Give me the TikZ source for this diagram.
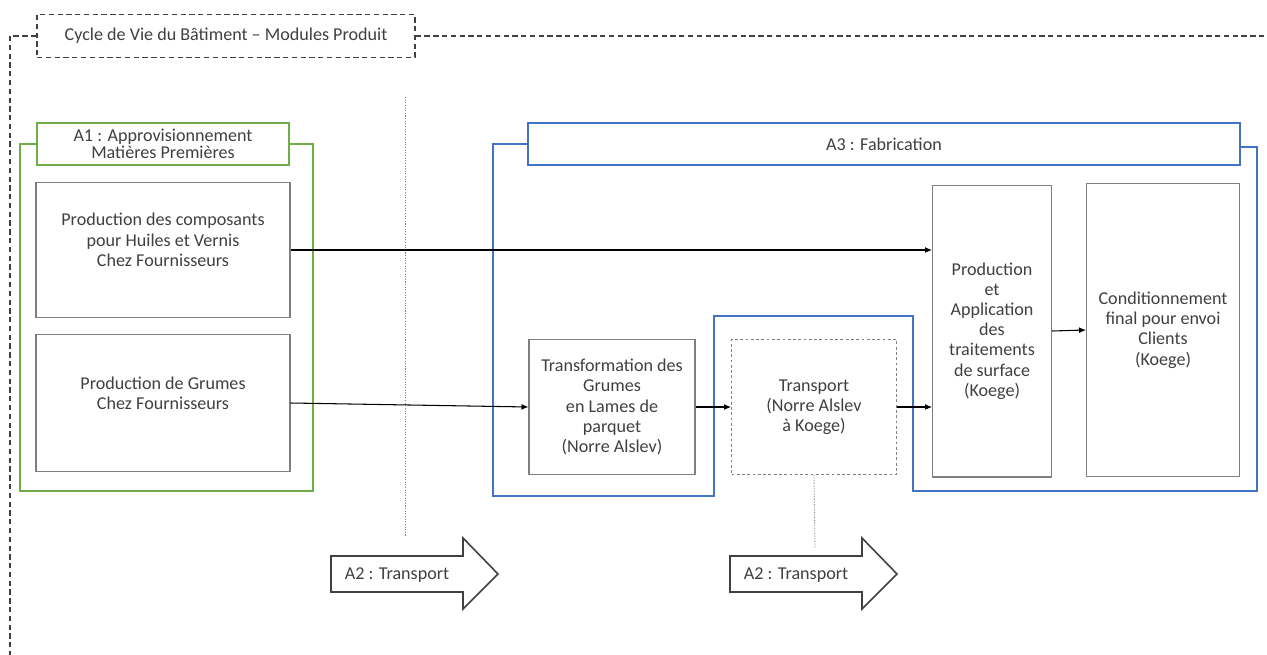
\documentclass[tikz,border=0pt]{standalone}
\usepackage{fontspec}
\setmainfont{Carlito}
\usetikzlibrary{arrows.meta}
\definecolor{txtgray}{HTML}{404040}
\definecolor{linegray}{HTML}{7F7F7F}
\definecolor{afgreen}{HTML}{70AD47}
\definecolor{afblue}{HTML}{4472C4}
\tikzset{
  stepbox/.style={draw=linegray, line width=0.6pt, text=txtgray, align=center,
    font=\fontsize{10.3}{11.5}\selectfont, inner sep=2pt},
  transpbox/.style={stepbox, dash pattern=on 1.6pt off 1.4pt},
  titlebox/.style={draw=txtgray, line width=0.8pt, dash pattern=on 3pt off 2pt,
    text=txtgray, font=\fontsize{10.3}{11.5}\selectfont,
    minimum width=7.56cm, minimum height=0.86cm},
  cycleline/.style={draw=txtgray, line width=0.8pt, dash pattern=on 3pt off 2pt},
  a1frame/.style={draw=afgreen, line width=0.8pt},
  a3frame/.style={draw=afblue, line width=0.8pt},
  a1title/.style={draw=afgreen, line width=0.8pt, fill=white, text=txtgray, align=center,
    font=\fontsize{10.3}{9.6}\selectfont, minimum width=5.04cm, minimum height=0.84cm},
  a3title/.style={draw=afblue, line width=0.8pt, fill=white, text=txtgray,
    font=\fontsize{10.3}{11.5}\selectfont, minimum width=14.24cm, minimum height=0.84cm},
  flow/.style={draw=black, line width=0.6pt, -{Latex[length=1.4mm, width=1.2mm]}},
  a2arrow/.style={draw=txtgray, line width=0.9pt},
  a2text/.style={text=txtgray, font=\fontsize{10.3}{11.5}\selectfont},
  sepline/.style={draw=linegray, line width=0.5pt, dash pattern=on 0.6pt off 0.9pt}
}
\begin{document}
\begin{tikzpicture}[x=0.02cm, y=-0.02cm]
  \useasboundingbox (0,0) rectangle (1267,655);
  % cadre general
  \node[titlebox] (cycle) at (226,36) {Cycle de Vie du Bâtiment – Modules Produit};
  \draw[cycleline] (cycle.west) -| (10,655);
  \draw[cycleline] (cycle.east) -- (1267,36);
  \draw[sepline] (405,97) -- (405,537);

  % A1
  \draw[a1frame] (20,144) rectangle (313,491);
  \node[a1title] (a1) at (163,144) {A1 : Approvisionnement\\Matières Premières};
  \node[stepbox, minimum width=5.08cm, minimum height=2.7cm] (comp) at (163,250)
    {Production des composants\\pour Huiles et Vernis\\Chez Fournisseurs\\\mbox{}};
  \node[stepbox, minimum width=5.08cm, minimum height=2.74cm] (grumes) at (163,403)
    {Production de Grumes\\Chez Fournisseurs\\\mbox{}};

  % A3
  \draw[a3frame] (528,144) -- (493,144) -- (493,496) -- (714,496) -- (714,316)
    -- (913,316) -- (913,491) -- (1257,491) -- (1257,147) -- (1240,147);
  \node[a3title] (a3) at (884,144) {A3 : Fabrication};
  \node[stepbox, minimum width=3.32cm, minimum height=2.7cm] (transf) at (612,407)
    {Transformation des\\Grumes\\en Lames de\\parquet\\(Norre Alslev)};
  \node[transpbox, minimum width=3.3cm, minimum height=2.7cm] (transp) at (814,407)
    {Transport\\(Norre Alslev\\à Koege)};
  \node[stepbox, minimum width=2.38cm, minimum height=5.84cm] (prod) at (992,331)
    {Production\\et\\Application\\des\\traitements\\de surface\\(Koege)};
  \node[stepbox, minimum width=3.06cm, minimum height=5.86cm] (cond) at (1163,330)
    {Conditionnement\\final pour envoi\\Clients\\(Koege)};

  % flux
  \draw[flow] (comp.east) -- (comp.east -| prod.west);
  \draw[flow] (grumes.east) -- (transf.west);
  \draw[flow] (transf.east) -- (transp.west);
  \draw[flow] (transp.east) -- (transp.east -| prod.west);
  \draw[flow] (prod.east) -- (cond.west);

  % A2
  \draw[a2arrow] (331,556) -- (463,556) -- (463,538) -- (498,574) -- (463,609)
    -- (463,592) -- (331,592) -- cycle;
  \node[a2text] (a2left) at (397,575) {A2 : Transport};
  \draw[a2arrow] (730,556) -- (862,556) -- (862,538) -- (897,574) -- (862,609)
    -- (862,592) -- (730,592) -- cycle;
  \node[a2text] (a2right) at (796,575) {A2 : Transport};
  \coordinate (a2top) at (815,548);
  \draw[sepline] (transp.south) -- (a2top);
\end{tikzpicture}
\end{document}
